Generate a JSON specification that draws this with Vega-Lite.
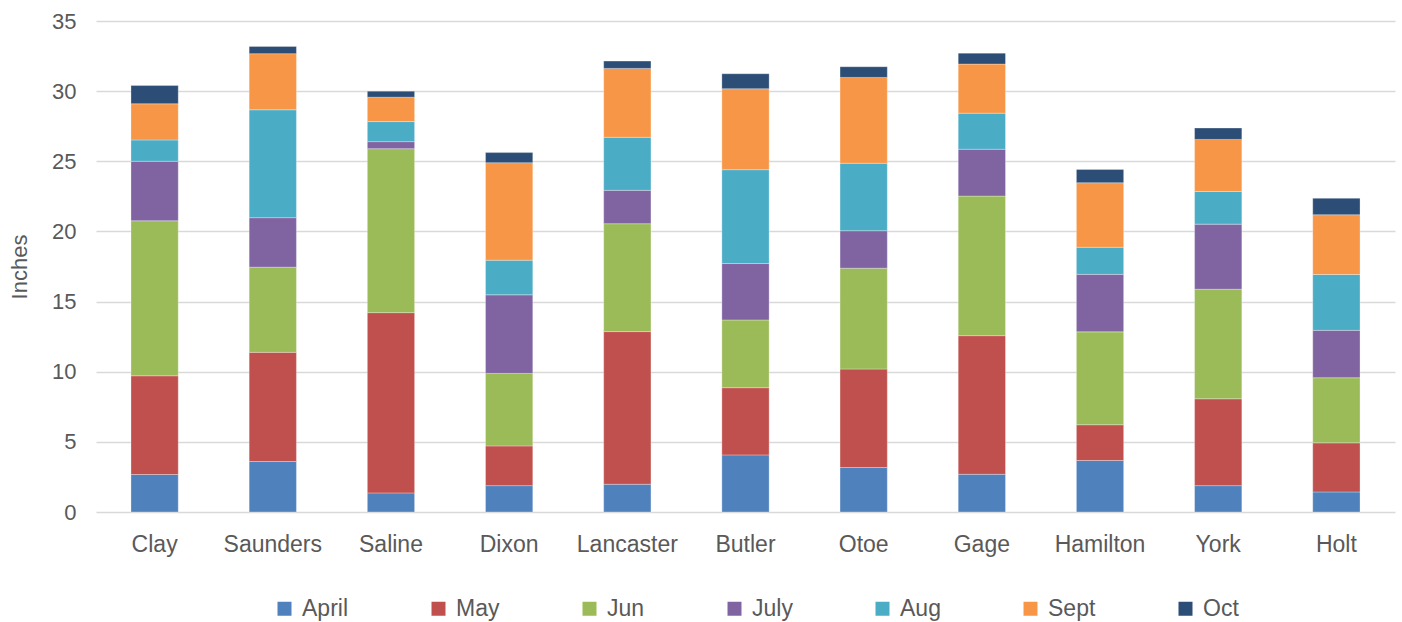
{
  "$schema": "https://vega.github.io/schema/vega-lite/v6.json",
  "width": 1299,
  "height": 491,
  "autosize": {"type": "none"},
  "padding": {"left": 96, "top": 21, "right": 7, "bottom": 110},
  "background": "#ffffff",
  "config": {
    "font": "Liberation Sans",
    "view": {"stroke": null}
  },
  "data": {
    "values": [
      {"county": "Clay", "month": "April", "month_num": 4, "inches": 2.67},
      {"county": "Clay", "month": "May", "month_num": 5, "inches": 7.04},
      {"county": "Clay", "month": "Jun", "month_num": 6, "inches": 11.05},
      {"county": "Clay", "month": "July", "month_num": 7, "inches": 4.24},
      {"county": "Clay", "month": "Aug", "month_num": 8, "inches": 1.52},
      {"county": "Clay", "month": "Sept", "month_num": 9, "inches": 2.58},
      {"county": "Clay", "month": "Oct", "month_num": 10, "inches": 1.30},
      {"county": "Saunders", "month": "April", "month_num": 4, "inches": 3.60},
      {"county": "Saunders", "month": "May", "month_num": 5, "inches": 7.78},
      {"county": "Saunders", "month": "Jun", "month_num": 6, "inches": 6.07},
      {"county": "Saunders", "month": "July", "month_num": 7, "inches": 3.53},
      {"county": "Saunders", "month": "Aug", "month_num": 8, "inches": 7.69},
      {"county": "Saunders", "month": "Sept", "month_num": 9, "inches": 4.00},
      {"county": "Saunders", "month": "Oct", "month_num": 10, "inches": 0.52},
      {"county": "Saline", "month": "April", "month_num": 4, "inches": 1.36},
      {"county": "Saline", "month": "May", "month_num": 5, "inches": 12.85},
      {"county": "Saline", "month": "Jun", "month_num": 6, "inches": 11.69},
      {"county": "Saline", "month": "July", "month_num": 7, "inches": 0.50},
      {"county": "Saline", "month": "Aug", "month_num": 8, "inches": 1.43},
      {"county": "Saline", "month": "Sept", "month_num": 9, "inches": 1.74},
      {"county": "Saline", "month": "Oct", "month_num": 10, "inches": 0.43},
      {"county": "Dixon", "month": "April", "month_num": 4, "inches": 1.88},
      {"county": "Dixon", "month": "May", "month_num": 5, "inches": 2.83},
      {"county": "Dixon", "month": "Jun", "month_num": 6, "inches": 5.17},
      {"county": "Dixon", "month": "July", "month_num": 7, "inches": 5.60},
      {"county": "Dixon", "month": "Aug", "month_num": 8, "inches": 2.47},
      {"county": "Dixon", "month": "Sept", "month_num": 9, "inches": 6.95},
      {"county": "Dixon", "month": "Oct", "month_num": 10, "inches": 0.72},
      {"county": "Lancaster", "month": "April", "month_num": 4, "inches": 1.98},
      {"county": "Lancaster", "month": "May", "month_num": 5, "inches": 10.88},
      {"county": "Lancaster", "month": "Jun", "month_num": 6, "inches": 7.69},
      {"county": "Lancaster", "month": "July", "month_num": 7, "inches": 2.38},
      {"county": "Lancaster", "month": "Aug", "month_num": 8, "inches": 3.78},
      {"county": "Lancaster", "month": "Sept", "month_num": 9, "inches": 4.91},
      {"county": "Lancaster", "month": "Oct", "month_num": 10, "inches": 0.52},
      {"county": "Butler", "month": "April", "month_num": 4, "inches": 4.07},
      {"county": "Butler", "month": "May", "month_num": 5, "inches": 4.79},
      {"county": "Butler", "month": "Jun", "month_num": 6, "inches": 4.83},
      {"county": "Butler", "month": "July", "month_num": 7, "inches": 4.02},
      {"county": "Butler", "month": "Aug", "month_num": 8, "inches": 6.69},
      {"county": "Butler", "month": "Sept", "month_num": 9, "inches": 5.77},
      {"county": "Butler", "month": "Oct", "month_num": 10, "inches": 1.07},
      {"county": "Otoe", "month": "April", "month_num": 4, "inches": 3.17},
      {"county": "Otoe", "month": "May", "month_num": 5, "inches": 7.02},
      {"county": "Otoe", "month": "Jun", "month_num": 6, "inches": 7.19},
      {"county": "Otoe", "month": "July", "month_num": 7, "inches": 2.67},
      {"county": "Otoe", "month": "Aug", "month_num": 8, "inches": 4.81},
      {"county": "Otoe", "month": "Sept", "month_num": 9, "inches": 6.12},
      {"county": "Otoe", "month": "Oct", "month_num": 10, "inches": 0.76},
      {"county": "Gage", "month": "April", "month_num": 4, "inches": 2.69},
      {"county": "Gage", "month": "May", "month_num": 5, "inches": 9.88},
      {"county": "Gage", "month": "Jun", "month_num": 6, "inches": 9.95},
      {"county": "Gage", "month": "July", "month_num": 7, "inches": 3.34},
      {"county": "Gage", "month": "Aug", "month_num": 8, "inches": 2.57},
      {"county": "Gage", "month": "Sept", "month_num": 9, "inches": 3.50},
      {"county": "Gage", "month": "Oct", "month_num": 10, "inches": 0.78},
      {"county": "Hamilton", "month": "April", "month_num": 4, "inches": 3.67},
      {"county": "Hamilton", "month": "May", "month_num": 5, "inches": 2.55},
      {"county": "Hamilton", "month": "Jun", "month_num": 6, "inches": 6.62},
      {"county": "Hamilton", "month": "July", "month_num": 7, "inches": 4.10},
      {"county": "Hamilton", "month": "Aug", "month_num": 8, "inches": 1.93},
      {"county": "Hamilton", "month": "Sept", "month_num": 9, "inches": 4.60},
      {"county": "Hamilton", "month": "Oct", "month_num": 10, "inches": 0.95},
      {"county": "York", "month": "April", "month_num": 4, "inches": 1.88},
      {"county": "York", "month": "May", "month_num": 5, "inches": 6.19},
      {"county": "York", "month": "Jun", "month_num": 6, "inches": 7.81},
      {"county": "York", "month": "July", "month_num": 7, "inches": 4.64},
      {"county": "York", "month": "Aug", "month_num": 8, "inches": 2.33},
      {"county": "York", "month": "Sept", "month_num": 9, "inches": 3.71},
      {"county": "York", "month": "Oct", "month_num": 10, "inches": 0.81},
      {"county": "Holt", "month": "April", "month_num": 4, "inches": 1.43},
      {"county": "Holt", "month": "May", "month_num": 5, "inches": 3.50},
      {"county": "Holt", "month": "Jun", "month_num": 6, "inches": 4.64},
      {"county": "Holt", "month": "July", "month_num": 7, "inches": 3.38},
      {"county": "Holt", "month": "Aug", "month_num": 8, "inches": 3.98},
      {"county": "Holt", "month": "Sept", "month_num": 9, "inches": 4.26},
      {"county": "Holt", "month": "Oct", "month_num": 10, "inches": 1.17}
    ]
  },
  "mark": {"type": "bar", "stroke": "#ffffff", "strokeWidth": 0.5, "strokeOpacity": 0.6},
  "encoding": {
    "x": {
      "field": "county",
      "type": "nominal",
      "sort": null,
      "scale": {"paddingInner": 0.6, "paddingOuter": 0.296},
      "axis": {
        "title": null,
        "labelAngle": 0,
        "labelFontSize": 23,
        "labelColor": "#595959",
        "labelPadding": 21,
        "ticks": false,
        "domain": false,
        "grid": false
      }
    },
    "y": {
      "field": "inches",
      "type": "quantitative",
      "aggregate": "sum",
      "stack": "zero",
      "scale": {"domain": [0, 35], "nice": false},
      "axis": {
        "title": "Inches",
        "titleFontSize": 22,
        "titleFontWeight": "normal",
        "titleColor": "#595959",
        "titlePadding": 20,
        "values": [0, 5, 10, 15, 20, 25, 30, 35],
        "labelFontSize": 22,
        "labelColor": "#595959",
        "labelPadding": 20,
        "ticks": false,
        "domain": false,
        "gridColor": "#d9d9d9",
        "gridWidth": 1.3
      }
    },
    "color": {
      "field": "month",
      "type": "nominal",
      "sort": ["April", "May", "Jun", "July", "Aug", "Sept", "Oct"],
      "scale": {
        "domain": ["April", "May", "Jun", "July", "Aug", "Sept", "Oct"],
        "range": ["#4F81BD", "#C0504D", "#9BBB59", "#8064A2", "#4BACC6", "#F79646", "#2C4D75"]
      },
      "legend": {
        "title": null,
        "orient": "none",
        "legendX": 177,
        "legendY": 576,
        "direction": "horizontal",
        "symbolType": "square",
        "symbolSize": 196,
        "symbolStrokeWidth": 0,
        "labelFontSize": 23,
        "labelColor": "#595959",
        "labelOffset": 6,
        "columnPadding": 78
      }
    },
    "order": {"field": "month_num", "type": "quantitative", "sort": "ascending"}
  }
}
